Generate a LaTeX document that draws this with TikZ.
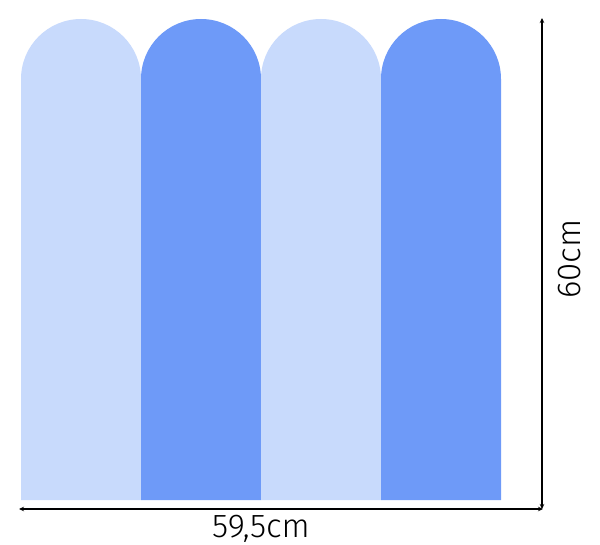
\documentclass[tikz,border=0pt]{standalone}
\usepackage{fontspec}
\setmainfont{Fira Sans Light}
\usetikzlibrary{arrows.meta}
\definecolor{lightb}{HTML}{C8DAFC}
\definecolor{darkb}{HTML}{6E9AF8}
\begin{document}
\begin{tikzpicture}[x=1pt,y=-1pt,
  dim/.style={line width=1.1pt,{Stealth[length=5pt,width=4.5pt]}-{Stealth[length=5pt,width=4.5pt]}},
  lab/.style={font=\fontsize{33}{36}\selectfont,inner sep=0pt}]
\useasboundingbox (0,0) rectangle (600,545);
\foreach \i/\c in {0/lightb,1/darkb,2/lightb,3/darkb}{
  \fill[\c] (21+120*\i,500) -- (21+120*\i,79) arc[start angle=180,end angle=360,radius=60] -- (141+120*\i,500) -- cycle;
}
\coordinate (hl) at (19,509);
\coordinate (hr) at (543,509);
\coordinate (vt) at (542,18);
\coordinate (vb) at (542,509);
\draw[dim] (hl) -- (hr);
\draw[dim] (vt) -- (vb);
\node[lab] (w) at (261,529) {59,5cm};
\node[lab,rotate=90] (h) at (570,259) {60cm};
\end{tikzpicture}
\end{document}
